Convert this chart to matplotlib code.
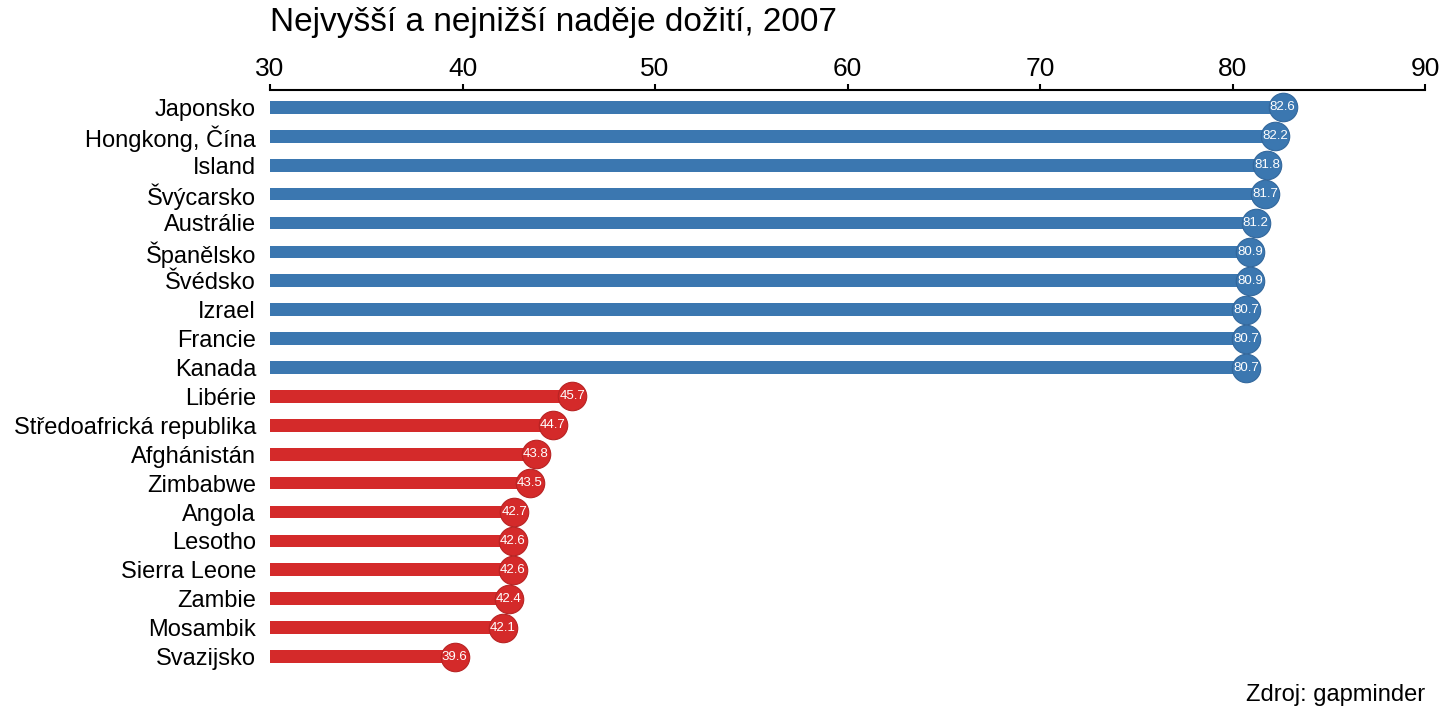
import matplotlib.pyplot as plt
import numpy as np

plt.rcParams['font.family'] = ['Liberation Sans', 'DejaVu Sans']

countries = ['Japonsko', 'Hongkong, Čína', 'Island', 'Švýcarsko', 'Austrálie',
             'Španělsko', 'Švédsko', 'Izrael', 'Francie', 'Kanada',
             'Libérie', 'Středoafrická republika', 'Afghánistán', 'Zimbabwe',
             'Angola', 'Lesotho', 'Sierra Leone', 'Zambie', 'Mosambik', 'Svazijsko']
life_exp = [82.6, 82.2, 81.8, 81.7, 81.2, 80.9, 80.9, 80.7, 80.7, 80.7,
            45.7, 44.7, 43.8, 43.5, 42.7, 42.6, 42.6, 42.4, 42.1, 39.6]
group = ['top'] * 10 + ['bottom'] * 10

blue = '#3b77b0'
red = '#d42a2a'

fig = plt.figure(figsize=(14.4, 7.2), dpi=100)
ax = fig.add_axes([0.1875, 0.064, 0.8021, 0.811])

y = np.arange(len(countries))
for i, (c, v, g) in enumerate(zip(countries, life_exp, group)):
    col = blue if g == 'top' else red
    edge = '#32679c' if g == 'top' else '#b82222'
    ax.barh(i, v - 30, left=30, height=0.44, color=col, zorder=2)
    ax.plot(v, i, 'o', markersize=20.5, color=col, markeredgecolor=edge,
            markeredgewidth=0.8, zorder=3)
    ax.text(v, i, f'{v:.1f}', color='white', fontsize=9.5,
            ha='center', va='center', zorder=4)

ax.set_xlim(30, 90)
ax.set_ylim(len(countries) - 0.4, -0.6)
ax.set_yticks(y)
ax.set_yticklabels(countries, fontsize=17)
ax.tick_params(axis='y', length=0, pad=10)
ax.xaxis.tick_top()
ax.set_xticks([30, 40, 50, 60, 70, 80, 90])
ax.tick_params(axis='x', labelsize=19, length=4.5, width=1.5, direction='out', pad=2)
for s in ['left', 'right', 'bottom']:
    ax.spines[s].set_visible(False)
ax.spines['top'].set_linewidth(1.5)

fig.text(0.1875, 0.99, 'Nejvyšší a nejnižší naděje dožití, 2007',
         fontsize=24, ha='left', va='top')
fig.text(0.99, 0.02, 'Zdroj: gapminder', fontsize=17, ha='right', va='bottom')

fig.savefig('out.png', dpi=100)
